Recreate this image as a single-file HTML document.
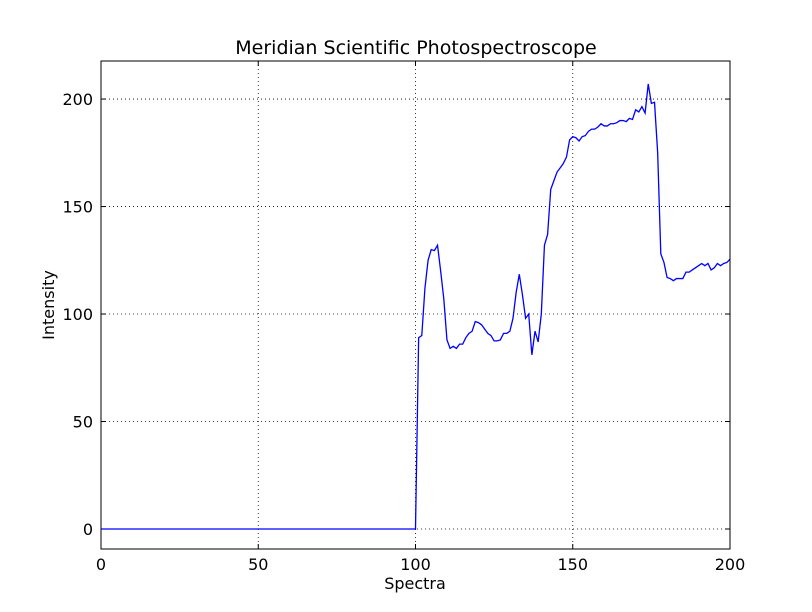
<!DOCTYPE html>
<html><head><meta charset="utf-8"><style>
html,body{margin:0;padding:0;background:#fff;}
svg{display:block;font-family:"DejaVu Sans","Liberation Sans",sans-serif;}
</style></head><body>
<svg id="chart" width="812" height="612">
<rect x="0" y="0" width="812" height="612" fill="#fff"/>
<text x="416" y="54" font-size="19" text-anchor="middle">Meridian Scientific Photospectroscope</text>
<text x="415" y="589" font-size="16" text-anchor="middle">Spectra</text>
<text x="54" y="305" font-size="16" text-anchor="middle" transform="rotate(-90 54 305)">Intensity</text>
<g id="grid"></g>
<g id="ticks"></g>
<polyline id="series" fill="none" stroke="#0000ff" stroke-width="1.3"/>
<rect x="101" y="61" width="629" height="488" fill="none" stroke="#000" stroke-width="1"/>
</svg>
<script>
const xTicks=[0,50,100,150,200];
const yTicks=[0,50,100,150,200];
const tail=[0,89,90,112,125,130,129.5,132,120,107,88,84,85,84,86,86,89,91,92,96.5,96,95,93,91,90,87.5,87.5,88,91,91,92,98,110,118.5,109,98,100,81,92,87,100,132,137,158,162,166,168,170,173,181,182.5,182,180.5,182.5,183,185,186,186,187,188.5,187.5,187.5,188.5,188.5,189,190,190,189.5,191,190.5,195,194,196.5,193.5,207,198,198.5,175,128,124,117,116.5,115.5,116.5,116.5,116.5,119.5,119.5,120.5,121.5,122.5,123.5,122.5,123.5,120.5,121.5,123.5,122.5,123.5,124,125.5];
const intensity=new Array(100).fill(0).concat(tail);
const L=101,R=730,T=61,B=549,XMIN=0,XMAX=200,YMIN=-9.3,YMAX=217.7;
const sx=v=>L+(v-XMIN)/(XMAX-XMIN)*(R-L);
const sy=v=>B-(v-YMIN)/(YMAX-YMIN)*(B-T);
const NS="http://www.w3.org/2000/svg";
const grid=document.getElementById('grid'),ticks=document.getElementById('ticks');
function mk(tag,attrs,parent){const e=document.createElementNS(NS,tag);for(const k in attrs)e.setAttribute(k,attrs[k]);parent.appendChild(e);return e;}
xTicks.forEach(t=>{const x=sx(t);
 const g=mk('line',{x1:x,x2:x,y1:T,y2:B,stroke:'#000','stroke-width':0.8,'stroke-dasharray':'1,3'},grid);
 
 
 mk('line',{x1:x,x2:x,y1:B,y2:B-5,stroke:'#000'},ticks);
 mk('line',{x1:x,x2:x,y1:T,y2:T+5,stroke:'#000'},ticks);
 const tx=mk('text',{x:x,y:B+21,'font-size':16,'text-anchor':'middle'},ticks);tx.textContent=t;
 
 
});
yTicks.forEach(t=>{const y=sy(t);
 const g=mk('line',{x1:L,x2:R,y1:y,y2:y,stroke:'#000','stroke-width':0.8,'stroke-dasharray':'1,3'},grid);
 
 
 mk('line',{x1:L,x2:L+5,y1:y,y2:y,stroke:'#000'},ticks);
 mk('line',{x1:R,x2:R-5,y1:y,y2:y,stroke:'#000'},ticks);
 const tx=mk('text',{x:L-8,y:y+6,'font-size':16,'text-anchor':'end'},ticks);tx.textContent=t;
 
 
});
document.getElementById('series').setAttribute('points',intensity.map((v,i)=>sx(i)+','+sy(v)).join(' '));
</script>
</body></html>
